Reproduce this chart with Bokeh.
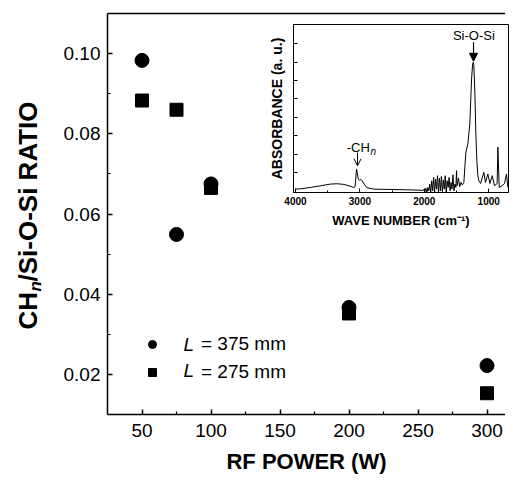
import math
from bokeh.plotting import figure
from bokeh.models import (Range1d, LinearAxis, FixedTicker, Legend, LegendItem,
                          Label, Arrow, NormalHead, OpenHead, ColumnDataSource)
from bokeh.embed import file_html
from bokeh.resources import INLINE

# ---------------- data ----------------
RF_POWER = [50, 75, 100, 200, 300]
RATIO_L375 = [0.0983, 0.0549, 0.0675, 0.0367, 0.0222]
RATIO_L275 = [0.0883, 0.0860, 0.0665, 0.0352, 0.0153]

X_TICKS = [50, 100, 150, 200, 250, 300]
X_MINOR = [75, 125, 175, 225, 275]
Y_TICKS = [0.02, 0.04, 0.06, 0.08, 0.10]
Y_TICK_LABELS = ["0.02", "0.04", "0.06", "0.08", "0.10"]
Y_MINOR = [0.03, 0.05, 0.07, 0.09]

# inset FTIR spectrum
WAVENUMBER = [4000, 3920, 3770, 3610, 3460, 3350, 3250, 3170, 3100, 3075, 3052, 3040,
              3025, 3005, 2985, 2965, 2935, 2890, 2780, 2520, 2260, 2080, 2030,
              2020, 2005, 1990, 1975, 1960, 1945, 1930, 1915, 1900, 1885, 1870, 1855,
              1840, 1825, 1810, 1795, 1780, 1765, 1750, 1735, 1720, 1705, 1690, 1675,
              1660, 1645, 1630, 1615, 1600, 1585, 1570, 1555, 1540, 1525, 1510, 1500,
              1490, 1470, 1450, 1430, 1410, 1386, 1371, 1355, 1324, 1293, 1267, 1251,
              1241, 1231, 1215, 1200, 1184, 1169, 1153, 1127, 1076, 1050, 1013, 982,
              946, 910, 869, 858, 837, 791, 755, 724, 703]
ABSORBANCE = [0.020, 0.022, 0.030, 0.040, 0.050, 0.052, 0.048, 0.040, 0.030, 0.034, 0.140, 0.115,
              0.080, 0.072, 0.078, 0.070, 0.050, 0.028, 0.020, 0.018, 0.016, 0.014, 0.012,
              0.010, 0.020, 0.005, 0.025, 0.000, 0.030, 0.010, 0.050, 0.000, 0.070, 0.010, 0.090,
              0.000, 0.080, 0.020, 0.100, 0.000, 0.085, 0.010, 0.095, 0.005, 0.075, 0.020, 0.100,
              0.000, 0.070, 0.030, 0.090, 0.010, 0.060, 0.020, 0.105, 0.010, 0.050, 0.030, 0.130,
              0.040, 0.085, 0.035, 0.060, 0.045, 0.060, 0.150, 0.240, 0.290, 0.410, 0.670, 0.760,
              0.775, 0.755, 0.590, 0.350, 0.190, 0.100, 0.070, 0.054, 0.120, 0.060, 0.110, 0.054,
              0.100, 0.040, 0.054, 0.270, 0.030, 0.040, 0.054, 0.110, 0.030]
INSET_X_TICKS = [4000, 3000, 2000, 1000]
INSET_X_MINOR = [3500, 2500, 1500]
INSET_Y_TICKS = [0.119, 0.229, 0.338, 0.447, 0.557, 0.666, 0.775, 0.885]

FONT = "Liberation Sans"

# ---------------- main figure ----------------
p = figure(width=497, height=472, x_range=Range1d(25, 313.4), y_range=Range1d(0.010, 0.110),
           output_backend="svg", toolbar_location=None,
           min_border_left=99, min_border_right=0, min_border_top=5, min_border_bottom=66)
p.styles = {"position": "absolute", "left": "8px", "top": "8px"}
p.outline_line_color = None
p.grid.visible = False
p.background_fill_color = "white"

for ax in (p.xaxis[0], p.yaxis[0]):
    ax.axis_line_width = 1.5
    ax.major_tick_line_width = 1.5
    ax.minor_tick_line_width = 1.2
    ax.major_tick_in = 5
    ax.major_tick_out = 0
    ax.minor_tick_in = 3
    ax.minor_tick_out = 0
    ax.major_label_text_font = FONT
    ax.major_label_text_font_size = "19px"
    ax.major_label_text_color = "black"

p.xaxis.ticker = FixedTicker(ticks=X_TICKS, minor_ticks=X_MINOR)
p.yaxis.ticker = FixedTicker(ticks=Y_TICKS, minor_ticks=Y_MINOR)
p.yaxis.major_label_overrides = {t: s for t, s in zip(Y_TICKS, Y_TICK_LABELS)}
p.xaxis.major_label_standoff = 9
p.yaxis.major_label_standoff = 7

p.xaxis.axis_label = "RF POWER (W)"
p.xaxis.axis_label_text_font = FONT
p.xaxis.axis_label_text_font_style = "bold"
p.xaxis.axis_label_text_font_size = "22px"
p.xaxis.axis_label_text_color = "black"
p.xaxis.axis_label_standoff = 9

top = LinearAxis(major_tick_in=0, major_tick_out=0, minor_tick_in=0, minor_tick_out=0,
                 major_label_standoff=0, axis_line_width=1.5,
                 ticker=FixedTicker(ticks=[], minor_ticks=[]))
p.add_layout(top, "above")

src = ColumnDataSource(dict(x=RF_POWER, a=RATIO_L375, b=RATIO_L275))
r1 = p.scatter("x", "a", source=src, marker="circle", size=14, color="black")
r2 = p.scatter("x", "b", source=src, marker="square", size=13, color="black")

legend = Legend(items=[LegendItem(label="= 375 mm", renderers=[r1]),
                       LegendItem(label="= 275 mm", renderers=[r2])],
                location=(35, 31), glyph_width=20, glyph_height=20, label_height=20,
                spacing=6, padding=0, margin=0, label_standoff=39,
                border_line_color=None, background_fill_alpha=0,
                label_text_font=FONT, label_text_font_size="19px",
                label_text_color="black")
p.add_layout(legend)
for yy in (70, 44):
    p.add_layout(Label(x=76, y=yy, x_units="screen", y_units="screen", text="L",
                       text_font=FONT, text_font_style="italic", text_font_size="19px",
                       text_color="black", text_baseline="middle", text_align="left"))

# ---------------- y-axis title (CH_n/Si-O-Si RATIO) ----------------
t = figure(width=50, height=472, x_range=Range1d(0, 1), y_range=Range1d(0, 1),
           output_backend="svg", toolbar_location=None, x_axis_type=None, y_axis_type=None,
           min_border=0, min_border_left=0, min_border_right=0, min_border_top=0,
           min_border_bottom=0)
t.styles = {"position": "absolute", "left": "8px", "top": "8px"}
t.outline_line_color = None
t.grid.visible = False
t.background_fill_alpha = 0
t.border_fill_alpha = 0
lx, ly = 19, 151
t.add_layout(Label(x=lx, y=ly, x_units="screen", y_units="screen", text="CH",
                   angle=math.pi / 2, text_font=FONT, text_font_style="bold",
                   text_font_size="26px", text_color="black",
                   text_baseline="middle", text_align="left"))
t.add_layout(Label(x=lx + 8, y=ly + 38, x_units="screen", y_units="screen", text="n",
                   angle=math.pi / 2, text_font=FONT, text_font_style="bold italic",
                   text_font_size="17px", text_color="black",
                   text_baseline="middle", text_align="left"))
t.add_layout(Label(x=lx, y=ly + 48, x_units="screen", y_units="screen", text="/Si-O-Si RATIO",
                   angle=math.pi / 2, text_font=FONT, text_font_style="bold",
                   text_font_size="26px", text_color="black",
                   text_baseline="middle", text_align="left"))

# ---------------- inset ----------------
q = figure(width=247, height=213, x_range=Range1d(4031, 693), y_range=Range1d(0, 1),
           output_backend="svg", toolbar_location=None,
           min_border_left=31, min_border_right=1, min_border_top=5, min_border_bottom=40)
q.styles = {"position": "absolute", "left": "262px", "top": "19px"}
q.grid.visible = False
q.outline_line_color = "black"
q.outline_line_width = 1
q.line(WAVENUMBER, ABSORBANCE, color="black", line_width=1)

for ax in (q.xaxis[0], q.yaxis[0]):
    ax.axis_line_width = 1
    ax.major_tick_in = 4
    ax.major_tick_out = 0
    ax.minor_tick_in = 2
    ax.minor_tick_out = 0
    ax.axis_label_text_font = FONT
    ax.axis_label_text_font_style = "bold"
    ax.axis_label_text_font_size = "13px"
    ax.axis_label_text_color = "black"

q.xaxis.ticker = FixedTicker(ticks=INSET_X_TICKS, minor_ticks=INSET_X_MINOR)
q.xaxis.major_label_text_font = FONT
q.xaxis.major_label_text_font_style = "bold"
q.xaxis.major_label_text_font_size = "10px"
q.xaxis.major_label_text_color = "black"
q.xaxis.major_label_standoff = 4
q.xaxis.axis_label = "WAVE NUMBER (cm⁻¹)"
q.xaxis.axis_label_standoff = 5

# unlabeled inset y ticks drawn as minor ticks (no tick texts)
q.yaxis.ticker = FixedTicker(ticks=[], minor_ticks=INSET_Y_TICKS)
q.yaxis.minor_tick_in = 4
q.yaxis.minor_tick_line_width = 1
q.yaxis.major_label_standoff = 0
q.yaxis.axis_label = "ABSORBANCE (a. u.)"
q.yaxis.axis_label_standoff = 9
q.yaxis.axis_label_text_font_size = "14px"

q.add_layout(Label(x=2846, y=0.2665, text="-CH", text_font=FONT, text_font_size="13px",
                   text_color="black", text_align="right", text_baseline="middle"))
q.add_layout(Label(x=2835, y=0.245, text="n", text_font=FONT, text_font_style="italic",
                   text_font_size="10px", text_color="black",
                   text_align="left", text_baseline="middle"))
q.add_layout(Arrow(x_start=3037, y_start=0.238, x_end=3037, y_end=0.159,
                   line_width=1, end=OpenHead(size=7, line_width=1)))
q.add_layout(Label(x=1231, y=0.934, text="Si-O-Si", text_font=FONT, text_font_size="13px",
                   text_color="black", text_align="center", text_baseline="middle"))
q.add_layout(Arrow(x_start=1236, y_start=0.894, x_end=1236, y_end=0.781,
                   line_width=1.2, end=NormalHead(size=8, fill_color="black", line_width=1)))

open("out.html", "w").write(file_html([p, t, q], INLINE))
